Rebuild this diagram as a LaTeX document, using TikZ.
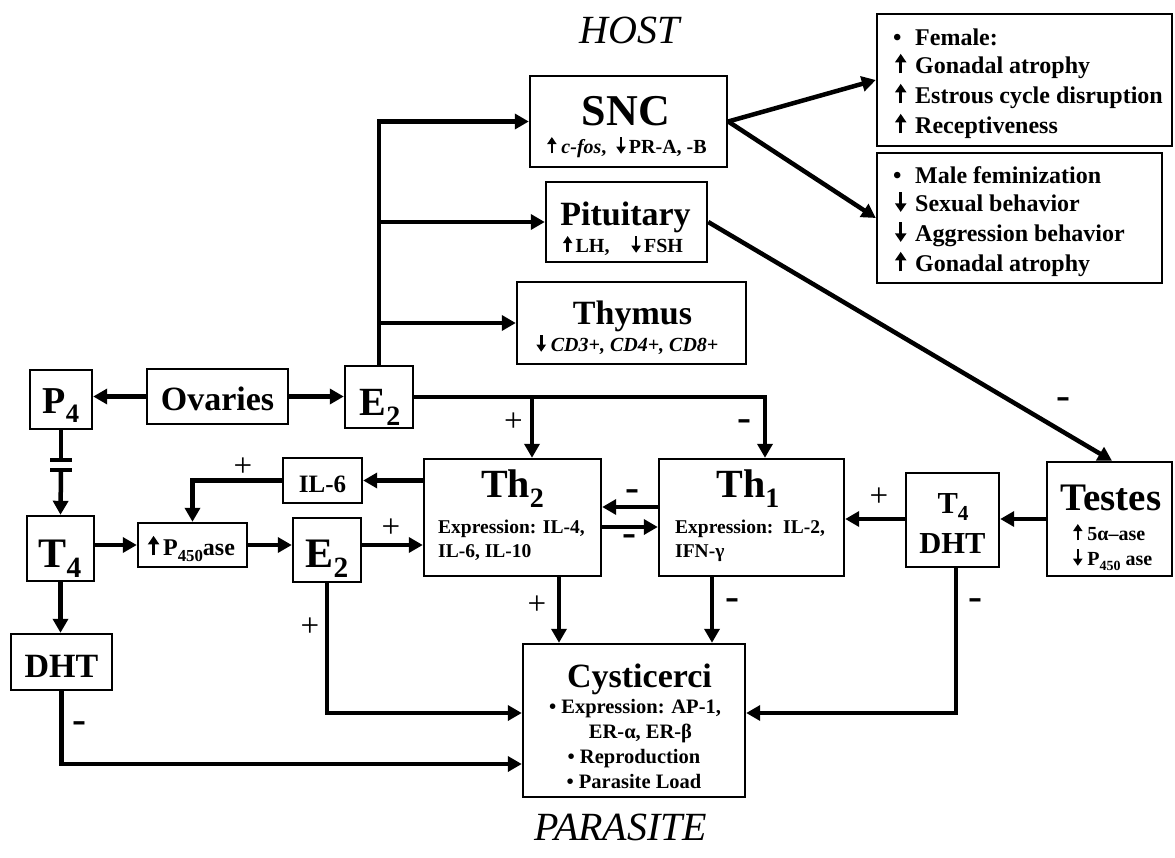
\documentclass[tikz,border=0pt]{standalone}
\usepackage{fontspec}
\setmainfont{Liberation Serif}
\usetikzlibrary{arrows.meta,calc}
\newcommand{\fs}[1]{\fontsize{#1}{#1}\selectfont}
\newcommand{\lowsub}[1]{\raisebox{-0.26em}{\scalebox{0.7}{#1}}}
\newcommand{\uparr}{\tikz[baseline=0pt]\draw[line width=0.13em,-{Triangle[length=0.36em,width=0.46em]}] (0,-0.02em)--(0,0.8em);}
\newcommand{\dnarr}{\tikz[baseline=0pt]\draw[line width=0.13em,-{Triangle[length=0.36em,width=0.46em]}] (0,0.78em)--(0,-0.04em);}
\newcommand{\lead}[1]{\makebox[22pt][l]{#1}}
\newcommand{\mns}{\scalebox{1.4}[1.3]{-}}
\tikzset{
  box/.style={draw, line width=2.4pt, inner sep=0pt},
  conn/.style={line width=4.5pt},
  arr/.style={conn, -{Triangle[length=14pt,width=15pt]}},
  txt/.style={font=\bfseries, inner sep=0pt, anchor=base},
  ltxt/.style={font=\bfseries, inner sep=0pt, anchor=base west},
  plbl/.style={inner sep=0pt, font=\fs{33}},
  mlbl/.style={inner sep=0pt, font=\bfseries\fs{30}},
  big/.style={font=\itshape\fs{40}, inner sep=0pt, anchor=base}
}
\begin{document}
\begin{tikzpicture}[x=1pt,y=-1pt]
\fill[white] (0,0) rectangle (1175,857);
\useasboundingbox (0,0) rectangle (1175,857);

% titles
\node[big] (host) at (630,43) {HOST};
\node[big] (parasite) at (621,840) {PARASITE};

% boxes
\node[box, minimum width=197pt, minimum height=91pt] (snc) at (628.5,121.5) {};
\node[box, minimum width=295pt, minimum height=132pt] (fem) at (1024.5,80) {};
\node[box, minimum width=285pt, minimum height=130pt] (male) at (1019.5,218) {};
\node[box, minimum width=161pt, minimum height=80pt] (pit) at (626.5,222) {};
\node[box, minimum width=229pt, minimum height=82pt] (thy) at (631.5,323) {};
\node[box, minimum width=62pt, minimum height=59pt] (p4) at (61,399.5) {};
\node[box, minimum width=141pt, minimum height=55pt] (ov) at (217.5,396.5) {};
\node[box, minimum width=68pt, minimum height=62pt] (e2a) at (379,397) {};
\node[box, minimum width=79pt, minimum height=45pt] (il6) at (322.5,480.5) {};
\node[box, minimum width=67pt, minimum height=65pt] (t4) at (60.5,548.5) {};
\node[box, minimum width=109pt, minimum height=44pt] (p450) at (192.5,545) {};
\node[box, minimum width=68pt, minimum height=64pt] (e2b) at (327,550) {};
\node[box, minimum width=177pt, minimum height=117pt] (th2) at (512.5,517.5) {};
\node[box, minimum width=185pt, minimum height=117pt] (th1) at (751.5,517.5) {};
\node[box, minimum width=93pt, minimum height=94pt] (t4d) at (952.5,520) {};
\node[box, minimum width=125pt, minimum height=114pt] (testes) at (1109.5,519) {};
\node[box, minimum width=101pt, minimum height=56pt] (dht) at (61.5,662) {};
\node[box, minimum width=222pt, minimum height=153pt] (cyst) at (634,720.5) {};

% texts
\node[txt, font=\bfseries\fs{44}] (snct) at (626,125) {SNC};
\node[txt, font=\bfseries\fs{20}] (sncs) at (627,153) {\uparr\ \textit{c-fos}, \ \dnarr\,PR-A, -B};

\node[ltxt, font=\bfseries\fs{24}] (f1) at (893,45) {\lead{•}Female:};
\node[ltxt, font=\bfseries\fs{24}] (f2) at (893,73) {\lead{\hspace{2pt}\uparr}Gonadal atrophy};
\node[ltxt, font=\bfseries\fs{24}] (f3) at (893,103) {\lead{\hspace{2pt}\uparr}Estrous cycle disruption};
\node[ltxt, font=\bfseries\fs{24}] (f4) at (893,133) {\lead{\hspace{2pt}\uparr}Receptiveness};

\node[ltxt, font=\bfseries\fs{24}] (m1) at (893,183) {\lead{•}Male feminization};
\node[ltxt, font=\bfseries\fs{24}] (m2) at (893,211) {\lead{\hspace{2pt}\dnarr}Sexual behavior};
\node[ltxt, font=\bfseries\fs{24}] (m3) at (893,241) {\lead{\hspace{2pt}\dnarr}Aggression behavior};
\node[ltxt, font=\bfseries\fs{24}] (m4) at (893,271) {\lead{\hspace{2pt}\uparr}Gonadal atrophy};

\node[txt, font=\bfseries\fs{34}] (pitt) at (625.5,225) {Pituitary};
\node[txt, font=\bfseries\fs{20}] (pits) at (623,252) {\uparr\,LH,\hspace{22pt}\dnarr\,FSH};

\node[txt, font=\bfseries\fs{34}] (thyt) at (632.5,324) {Thymus};
\node[txt, font=\bfseries\fs{20}] (thys) at (627.5,351) {\dnarr\ \textit{CD3+, CD4+, CD8+}};

\node[txt, font=\bfseries\fs{38}] (p4t) at (61,413) {P\lowsub{4}};
\node[txt, font=\bfseries\fs{34}] (ovt) at (217.5,410) {Ovaries};
\node[txt, font=\bfseries\fs{40}] (e2at) at (380,415) {E\lowsub{2}};
\node[txt, font=\bfseries\fs{25}] (il6t) at (322.5,492) {IL-6};
\node[txt, font=\bfseries\fs{42}] (t4t) at (60,567) {T\lowsub{4}};
\node[txt, font=\bfseries\fs{24}] (p450t) at (191.5,555) {\uparr\,P\lowsub{450}ase};
\node[txt, font=\bfseries\fs{42}] (e2bt) at (327,567) {E\lowsub{2}};
\node[txt, font=\bfseries\fs{34}] (dhtt) at (61.5,677) {DHT};

\node[txt, font=\bfseries\fs{40}] (th2t) at (512.5,497) {Th\lowsub{2}};
\node[ltxt, font=\bfseries\fs{19.5}] (th2a) at (438,533) {Expression: IL-4,};
\node[ltxt, font=\bfseries\fs{19.5}] (th2b) at (438,557) {IL-6, IL-10};

\node[txt, font=\bfseries\fs{40}] (th1t) at (748,497) {Th\lowsub{1}};
\node[ltxt, font=\bfseries\fs{19.5}] (th1a) at (675,533) {Expression:\ \ IL-2,};
\node[ltxt, font=\bfseries\fs{19.5}] (th1b) at (675,557) {IFN-γ};

\node[txt, font=\bfseries\fs{30.5}] (t4dt) at (953,513) {T\lowsub{4}};
\node[txt, font=\bfseries\fs{30.5}] (t4db) at (952.5,553) {DHT};

\node[txt, font=\bfseries\fs{39}] (testt) at (1111,510) {Testes};
\node[ltxt, font=\bfseries\fs{20}] (testa) at (1073,540) {\uparr\ 5α–ase};
\node[ltxt, font=\bfseries\fs{20}] (testb) at (1073,565) {\dnarr\ P\lowsub{450} ase};

\node[txt, font=\bfseries\fs{34}] (cystt) at (639.5,687) {Cysticerci};
\node[txt, font=\bfseries\fs{20.5}] (cys1) at (635,713) {• Expression: AP-1,};
\node[txt, font=\bfseries\fs{20.5}] (cys2) at (640.5,738) {ER-α, ER-β};
\node[txt, font=\bfseries\fs{20.5}] (cys3) at (634,763) {• Reproduction};
\node[txt, font=\bfseries\fs{20.5}] (cys4) at (634,788) {• Parasite Load};

% bar coordinates
\coordinate (b1) at (61,460);
\coordinate (b2) at (61,470);
\coordinate (b1l) at (50,460);
\coordinate (b1r) at (72,460);
\coordinate (b2l) at (50,470);
\coordinate (b2r) at (72,470);

% connectors
\draw[arr] (ov.west) -- (ov.west -| p4.east);
\draw[arr] (ov.east) -- (ov.east -| e2a.west);
\draw[arr] (e2a.north) |- (snc.west);
\draw[arr] (e2a.north |- pit.west) -- (pit.west);
\draw[arr] (e2a.north |- thy.west) -- (thy.west);
\draw[arr] (snc.east) -- (fem.west);
\draw[arr] (snc.east) -- (male.west);
\draw[arr] (pit.east) -- ([xshift=2.5pt]testes.north);
\draw[arr] (e2a.east) -| ([xshift=13.5pt]th1.north);
\draw[arr] ([xshift=19.5pt]th2.north |- e2a.east) -- ([xshift=19.5pt]th2.north);
\draw[arr] (th2.west |- il6.east) -- (il6.east);
\draw[arr] (il6.west) -| (p450.north);
\draw[conn] (p4.south) -- (b1);
\draw[conn] (b1l) -- (b1r);
\draw[conn] (b2l) -- (b2r);
\draw[arr] (b2) -- (t4.north);
\draw[arr] (t4.east |- p450.west) -- (p450.west);
\draw[arr] (p450.east) -- (p450.east -| e2b.west);
\draw[arr] (p450.east -| e2b.east) -- (p450.east -| th2.west);
\draw[arr] ([yshift=10.5pt]th1.west) -- ([yshift=10.5pt]th1.west -| th2.east);
\draw[arr] ([yshift=-9.5pt]th2.east) -- ([yshift=-9.5pt]th2.east -| th1.west);
\draw[arr] (testes.west) -- (testes.west -| t4d.east);
\draw[arr] (t4d.west |- testes.west) -- (th1.east |- testes.west);
\draw[arr] (t4.south) -- (t4.south |- dht.north);
\draw[arr] (e2b.south) |- ([yshift=7.5pt]cyst.west);
\draw[arr] (dht.south) |- ([yshift=-43.5pt]cyst.west);
\draw[arr] ([xshift=46.5pt]th2.south) -- ([xshift=46.5pt]th2.south |- cyst.north);
\draw[arr] ([xshift=-39.5pt]th1.south) -- ([xshift=-39.5pt]th1.south |- cyst.north);
\draw[arr] ([xshift=3.5pt]t4d.south) |- ([yshift=7.5pt]cyst.east);

% sign labels
\node[plbl] (l1) at (513.5,422.5) {+};
\node[mlbl] (l2) at (744,425) {\mns};
\node[mlbl] (l3) at (1063,403) {\mns};
\node[plbl] (l4) at (243,467) {+};
\node[mlbl] (l5) at (632,495) {\mns};
\node[mlbl] (l6) at (629,540) {\mns};
\node[plbl] (l7) at (391,528) {+};
\node[plbl] (l8) at (879,497) {+};
\node[mlbl] (l9) at (975,604) {\mns};
\node[plbl] (l10) at (537,605) {+};
\node[mlbl] (l11) at (732,604) {\mns};
\node[plbl] (l12) at (310,627) {+};
\node[mlbl] (l13) at (79,727) {\mns};
\end{tikzpicture}
\end{document}
